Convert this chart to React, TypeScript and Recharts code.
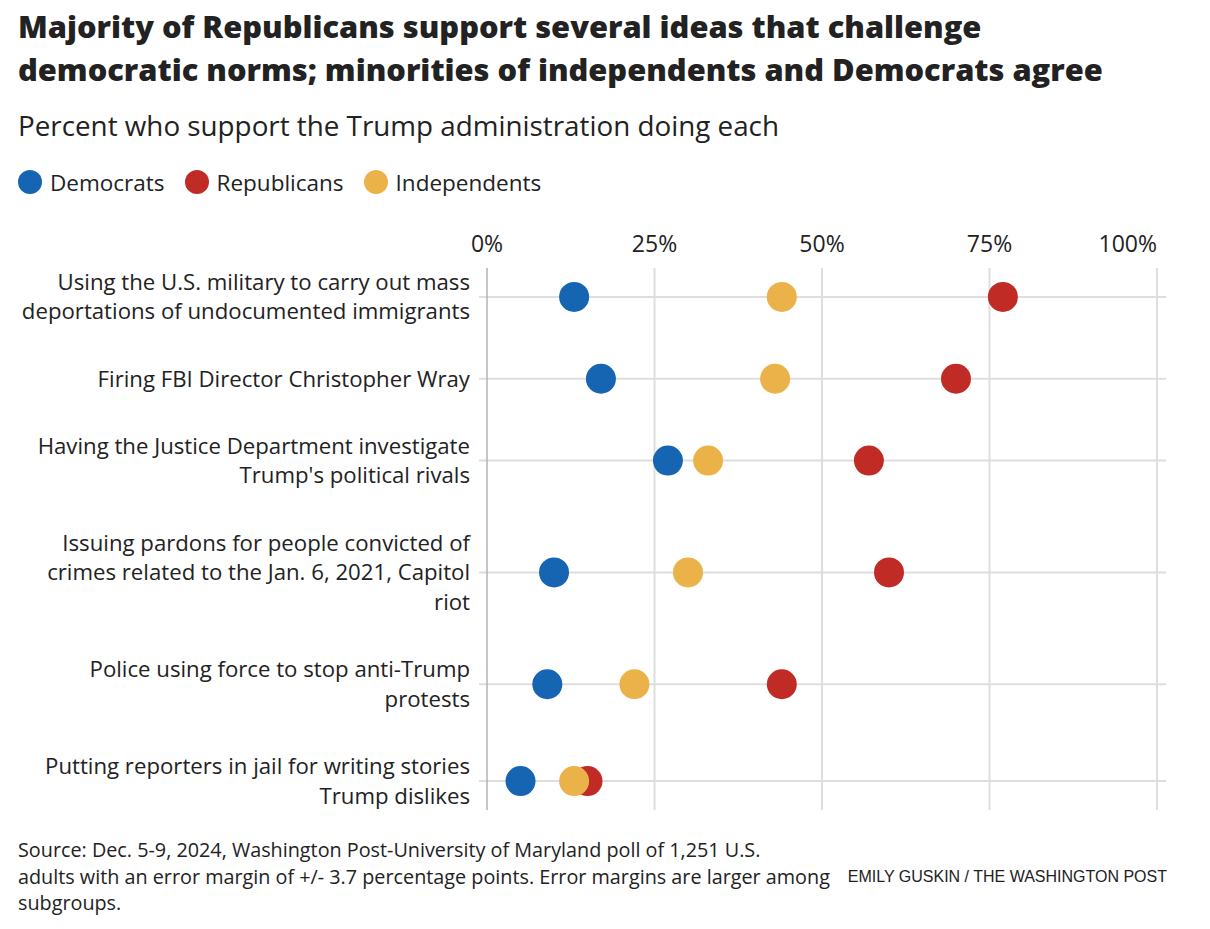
import React from 'react';
import { ReferenceLine, Scatter, ScatterChart, XAxis, YAxis } from 'recharts';

// one entry per question, "\n" marks where the label wraps
const questions = [
  'Using the U.S. military to carry out mass\ndeportations of undocumented immigrants',
  'Firing FBI Director Christopher Wray',
  'Having the Justice Department investigate\nTrump\'s political rivals',
  'Issuing pardons for people convicted of\ncrimes related to the Jan. 6, 2021, Capitol\nriot',
  'Police using force to stop anti-Trump\nprotests',
  'Putting reporters in jail for writing stories\nTrump dislikes',
];

const democrats = [13, 17, 27, 10, 9, 5];
const republicans = [77, 70, 57, 60, 44, 15];
const independents = [44, 43, 33, 30, 22, 13];

const xTicks = [0, 25, 50, 75, 100];

const colours = {
  dem: '#1565b3',
  rep: '#c12b26',
  ind: '#ebb249',
};

const bodyFont = '"Open Sans", Roboto, sans-serif';

// rows are as tall as their label: each line counts one unit plus some padding
const rowPad = 1.23;
const lineCounts = questions.map((q) => q.split('\n').length);
const rowCentres: number[] = [];
let acc = 0;
lineCounts.forEach((n) => {
  const h = n + rowPad;
  rowCentres.push(acc + h / 2);
  acc += h;
});
const yEdge = 0.65;
const yDomain = [yEdge, acc - yEdge];

const toPoints = (values: number[]) => values.map((v, i) => ({ x: v, y: rowCentres[i], q: questions[i] }));

const demData = toPoints(democrats);
const repData = toPoints(republicans);
const indData = toPoints(independents);

const Dot = (colour: string) => (props: any) => (
  <circle cx={props.cx} cy={props.cy} r={15} fill={colour} />
);

const XTick = (props: any) => {
  const { x, y, payload } = props;
  const last = payload.value === 100;
  return (
    <text
      x={x}
      y={y}
      dy={-8}
      textAnchor={last ? 'end' : 'middle'}
      fill="#222"
      fontSize={23}
      fontFamily={bodyFont}
    >
      {payload.value}%
    </text>
  );
};

const YTick = (props: any) => {
  const { x, y, payload } = props;
  const idx = rowCentres.findIndex((c) => Math.abs(c - payload.value) < 0.001);
  if (idx < 0) return null;
  const lines = questions[idx].split('\n');
  const lh = 29.5;
  const start = -((lines.length - 1) / 2) * lh;
  return (
    <text x={x} y={y} textAnchor="end" fill="#222" fontSize={22.2} fontFamily={bodyFont}>
      {lines.map((l, i) => (
        <tspan key={i} x={x} y={y + start + i * lh} dy="0.35em">
          {l}
        </tspan>
      ))}
    </text>
  );
};

const LegendItem = ({ colour, label }: { colour: string; label: string }) => (
  <div style={{ display: 'flex', alignItems: 'center', marginRight: 20 }}>
    <span
      style={{
        width: 24,
        height: 24,
        borderRadius: '50%',
        background: colour,
        display: 'inline-block',
        marginRight: 8,
      }}
    />
    <span style={{ fontSize: 22.5, color: '#222' }}>{label}</span>
  </div>
);

export default function App() {
  return (
    <div style={styles.page}>
      <div style={styles.title}>
        Majority of Republicans support several ideas that challenge
        <br />
        democratic norms; minorities of independents and Democrats agree
      </div>
      <div style={styles.subtitle}>Percent who support the Trump administration doing each</div>
      <div style={styles.legend}>
        <LegendItem colour={colours.dem} label="Democrats" />
        <LegendItem colour={colours.rep} label="Republicans" />
        <LegendItem colour={colours.ind} label="Independents" />
      </div>

      <div style={styles.chart}>
        <ScatterChart width={1210} height={600} margin={{ top: 8, right: 44, bottom: 10, left: 0 }}>
          <XAxis
            type="number"
            dataKey="x"
            orientation="top"
            domain={[-1.2, 101.35]}
            ticks={xTicks}
            axisLine={false}
            tickLine={false}
            height={40}
            tick={<XTick />}
            allowDataOverflow
          />
          <YAxis
            type="number"
            dataKey="y"
            domain={yDomain}
            ticks={rowCentres}
            reversed
            width={479}
            axisLine={false}
            tickLine={false}
            tickSize={0}
            tickMargin={9}
            interval={0}
            tick={<YTick />}
            allowDataOverflow
          />
          {/* gridlines: one per row, one per x tick */}
          {rowCentres.map((c) => (
            <ReferenceLine key={'h' + c} y={c} stroke="#dedede" strokeWidth={2} />
          ))}
          {xTicks.map((t) => (
            <ReferenceLine
              key={'v' + t}
              x={t}
              stroke={t === 0 ? '#b4b4b4' : '#dedede'}
              strokeWidth={t === 0 ? 1.5 : 2}
            />
          ))}
          <Scatter name="Democrats" data={demData} shape={Dot(colours.dem)} isAnimationActive={false} />
          <Scatter name="Republicans" data={repData} shape={Dot(colours.rep)} isAnimationActive={false} />
          <Scatter name="Independents" data={indData} shape={Dot(colours.ind)} isAnimationActive={false} />
        </ScatterChart>
      </div>

      <div style={styles.source}>
        Source: Dec. 5-9, 2024, Washington Post-University of Maryland poll of 1,251 U.S.
        <br />
        adults with an error margin of +/- 3.7 percentage points. Error margins are larger among
        <br />
        subgroups.
      </div>
      <div style={styles.credit}>EMILY GUSKIN / THE WASHINGTON POST</div>
    </div>
  );
}

const styles: Record<string, React.CSSProperties> = {
  page: {
    position: 'relative',
    width: 1210,
    height: 929,
    margin: -8,
    background: '#fff',
    fontFamily: bodyFont,
    color: '#222',
  },
  title: {
    position: 'absolute',
    left: 18,
    top: 5,
    fontSize: 30.8,
    lineHeight: '43px',
    fontWeight: 800,
    color: '#222',
  },
  subtitle: {
    position: 'absolute',
    left: 18,
    top: 106,
    fontSize: 27.8,
    lineHeight: '38px',
    color: '#222',
  },
  legend: {
    position: 'absolute',
    left: 18,
    top: 166,
    display: 'flex',
    height: 32,
  },
  chart: {
    position: 'absolute',
    left: 0,
    top: 220,
  },
  source: {
    position: 'absolute',
    left: 18,
    top: 837,
    fontSize: 19.8,
    lineHeight: '26.5px',
    color: '#222',
  },
  credit: {
    position: 'absolute',
    right: 43,
    top: 865,
    fontSize: 16,
    lineHeight: '24px',
    fontFamily: '"Liberation Sans", Arial, sans-serif',
    color: '#222',
  },
};
